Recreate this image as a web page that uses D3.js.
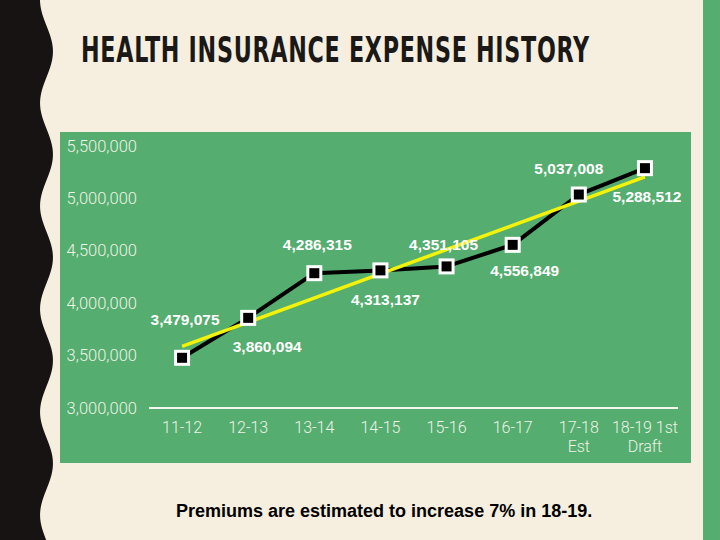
<!DOCTYPE html>
<html><head><meta charset="utf-8">
<script src="https://cdn.jsdelivr.net/npm/d3@7"></script>
<style>html,body{margin:0;padding:0;background:#f6efdf;}svg{display:block;}</style>
</head><body>
<svg id="chart" width="720" height="540"></svg>
<script>
const categories = ["11-12","12-13","13-14","14-15","15-16","16-17","17-18\nEst","18-19 1st\nDraft"];
const expenses = [3479075,3860094,4286315,4313137,4351105,4556849,5037008,5288512];
const yTicks = [3000000,3500000,4000000,4500000,5000000,5500000];
const titleText = "HEALTH INSURANCE EXPENSE HISTORY";
const noteText = "Premiums are estimated to increase 7% in 18-19.";
// label placement (style only)
const labelOffsets = [[3,-38],[19,29],[3,-29],[5,29],[-3,-22],[12,26],[-10,-26],[2,28]];

const svg = d3.select("#chart");
const W = 720, H = 540;
svg.append("rect").attr("width",W).attr("height",H).attr("fill","#f6efdf");

// wavy black left border
const waveArea = d3.area().x0(0).x1(d=>d[0]).y(d=>d[1]).curve(d3.curveBasis);
const wavePts = d3.range(0, H+4, 4).map(y=>[46.5 - 6.5*Math.cos(2*Math.PI*y/103), y]);
svg.append("path").datum(wavePts).attr("d", waveArea).attr("fill","#161312");

// right green strip
svg.append("rect").attr("x",703).attr("y",0).attr("width",17).attr("height",H).attr("fill","#55ad6f");

// title (scaled horizontally to the reference width)
const title = svg.append("text").attr("x",0).attr("y",0).text(titleText)
  .attr("font-family","'DejaVu Sans Condensed','Liberation Sans Narrow',sans-serif")
  .attr("font-weight","bold").attr("font-size",35).attr("fill","#1b1918")
  .attr("letter-spacing",1);
const tw = title.node().getComputedTextLength();
title.attr("transform",`translate(81,62) scale(${509/tw},1)`);

// green panel
svg.append("rect").attr("x",60).attr("y",132).attr("width",631).attr("height",331).attr("fill","#55ad6f");

const x = d3.scaleBand().domain(categories).range([149,678]);
const y = d3.scaleLinear().domain([3000000,5500000]).range([408,146]);
const cx = c => x(c) + x.bandwidth()/2;

// y tick labels
const fmt = d3.format(",");
svg.append("g").selectAll("text").data(yTicks).join("text")
  .attr("x",137).attr("y",d=>y(d)+5.5).attr("text-anchor","end")
  .attr("font-family","Roboto, 'Liberation Sans', sans-serif").attr("font-weight",300)
  .attr("font-size",16.5).attr("fill","#eef3e6").text(d=>fmt(d));

// x axis line
svg.append("line").attr("x1",149).attr("x2",678).attr("y1",y(3000000)).attr("y2",y(3000000))
  .attr("stroke","#f4f6ee").attr("stroke-width",2);

// x labels
const xl = svg.append("g").selectAll("text").data(categories).join("text")
  .attr("x",d=>cx(d)).attr("y",433).attr("text-anchor","middle")
  .attr("font-family","Roboto, 'Liberation Sans', sans-serif").attr("font-weight",300)
  .attr("font-size",16).attr("fill","#eef3e6");
xl.each(function(d){
  const lines = d.split("\n");
  d3.select(this).selectAll("tspan").data(lines).join("tspan")
    .attr("x",cx(d)).attr("dy",(l,i)=>i===0?0:19).text(l=>l);
});

// data line
const pts = categories.map((c,i)=>[cx(c), y(expenses[i])]);
svg.append("path").datum(pts).attr("d", d3.line()).attr("fill","none")
  .attr("stroke","#000").attr("stroke-width",4).attr("stroke-linejoin","round");

// linear trendline computed from the data
const n = expenses.length, mx = (n-1)/2, my = d3.mean(expenses);
const slope = d3.sum(expenses,(v,i)=>(i-mx)*(v-my)) / d3.sum(expenses,(v,i)=>(i-mx)*(i-mx));
const icpt = my - slope*mx;
svg.append("line")
  .attr("x1",cx(categories[0])).attr("y1",y(icpt))
  .attr("x2",cx(categories[n-1])).attr("y2",y(icpt+slope*(n-1)))
  .attr("stroke","#f2f20a").attr("stroke-width",3.5);

// markers
svg.append("g").selectAll("rect").data(pts).join("rect")
  .attr("x",d=>d[0]-6.5).attr("y",d=>d[1]-6.5).attr("width",13).attr("height",13)
  .attr("fill","#000").attr("stroke","#fff").attr("stroke-width",3);

// data labels
svg.append("g").selectAll("text").data(expenses).join("text")
  .attr("x",(d,i)=>pts[i][0]+labelOffsets[i][0])
  .attr("y",(d,i)=>pts[i][1]+labelOffsets[i][1]+5.5)
  .attr("text-anchor","middle")
  .attr("font-family","'Liberation Sans', Arial, sans-serif").attr("font-weight","bold")
  .attr("font-size",15.5).attr("fill","#ffffff").text(d=>fmt(d));

// note
svg.append("text").attr("x",176).attr("y",517).text(noteText)
  .attr("font-family","'Liberation Sans', Arial, sans-serif").attr("font-weight","bold")
  .attr("font-size",18).attr("fill","#000");
</script>
</body></html>
